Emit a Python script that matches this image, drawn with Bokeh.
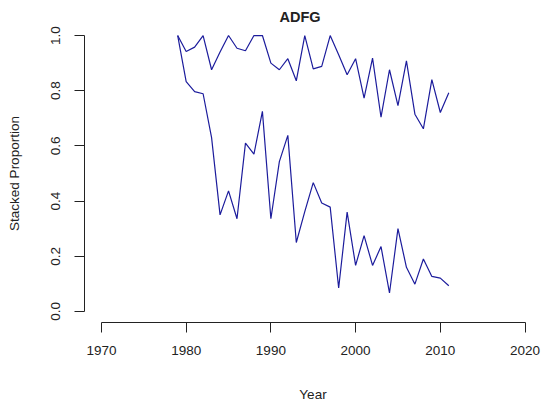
from bokeh.plotting import figure
from bokeh.models import LinearAxis, FixedTicker, Title, CustomJSTickFormatter
from bokeh.embed import file_html
from bokeh.resources import INLINE

years = [1979, 1980, 1981, 1982, 1983, 1984, 1985, 1986, 1987, 1988, 1989,
         1990, 1991, 1992, 1993, 1994, 1995, 1996, 1997, 1998, 1999, 2000,
         2001, 2002, 2003, 2004, 2005, 2006, 2007, 2008, 2009, 2010, 2011]
lower = [1.0, 0.833, 0.797, 0.789, 0.63, 0.35, 0.437, 0.336, 0.61, 0.57, 0.725,
         0.336, 0.543, 0.638, 0.25, 0.362, 0.467, 0.393, 0.378, 0.085, 0.36, 0.167,
         0.275, 0.167, 0.235, 0.067, 0.30, 0.16, 0.099, 0.19, 0.127, 0.121, 0.093]
upper = [1.0, 0.942, 0.958, 1.0, 0.876, 0.94, 1.0, 0.954, 0.945, 1.0, 1.0,
         0.90, 0.876, 0.916, 0.836, 1.0, 0.879, 0.888, 1.0, 0.93, 0.858, 0.916,
         0.773, 0.918, 0.704, 0.876, 0.746, 0.908, 0.715, 0.662, 0.84, 0.721, 0.793]
x_ticks = [1970, 1980, 1990, 2000, 2010, 2020]
y_ticks = [0.0, 0.2, 0.4, 0.6, 0.8, 1.0]

W, H = 542, 407
px_per_year = 8.472
frame_w = 457
p = figure(width=W, height=H, output_backend="svg", toolbar_location=None,
           x_range=(1968.0, 1968.0 + frame_w / px_per_year), y_range=(-0.04, 1.04),
           x_axis_location=None, y_axis_location=None,
           min_border_left=84, min_border_right=0, min_border_top=24, min_border_bottom=85)
p.frame_width = frame_w
p.frame_height = 298
p.outline_line_color = None
p.xgrid.visible = False
p.ygrid.visible = False
p.background_fill_color = "white"
p.border_fill_color = "white"

font = "Liberation Sans"
txt = "#222222"

xa = LinearAxis(ticker=FixedTicker(ticks=x_ticks), bounds=(1970, 2020),
                axis_label="Year")
ya = LinearAxis(ticker=FixedTicker(ticks=y_ticks), bounds=(0, 1),
                axis_label="Stacked Proportion")
for ax in (xa, ya):
    ax.axis_line_color = txt
    ax.major_tick_line_color = txt
    ax.minor_tick_line_color = None
    ax.major_tick_in = 0
    ax.major_tick_out = 10
    ax.major_label_text_font = font
    ax.major_label_text_font_size = "13.5px"
    ax.major_label_text_color = txt
    ax.axis_label_text_font = font
    ax.axis_label_text_font_size = "13.5px"
    ax.axis_label_text_font_style = "normal"
    ax.axis_label_text_color = txt
xa.major_label_standoff = 13
xa.axis_label_standoff = 29
ya.major_label_standoff = 14
ya.major_label_orientation = "vertical"
ya.axis_label_standoff = 27
ya.formatter = CustomJSTickFormatter(code="return tick.toFixed(1);")
p.add_layout(xa, "below")
p.add_layout(ya, "left")

t = Title(text="ADFG", align="left", offset=195, text_font=font,
          text_font_size="14.5px", text_font_style="bold", text_color=txt, standoff=0)
p.add_layout(t, "above")

col = "#1c1c9c"
p.line(years, lower, line_color=col, line_width=1.2)
p.line(years, upper, line_color=col, line_width=1.2)

open("out.html", "w").write(file_html(p, INLINE))
